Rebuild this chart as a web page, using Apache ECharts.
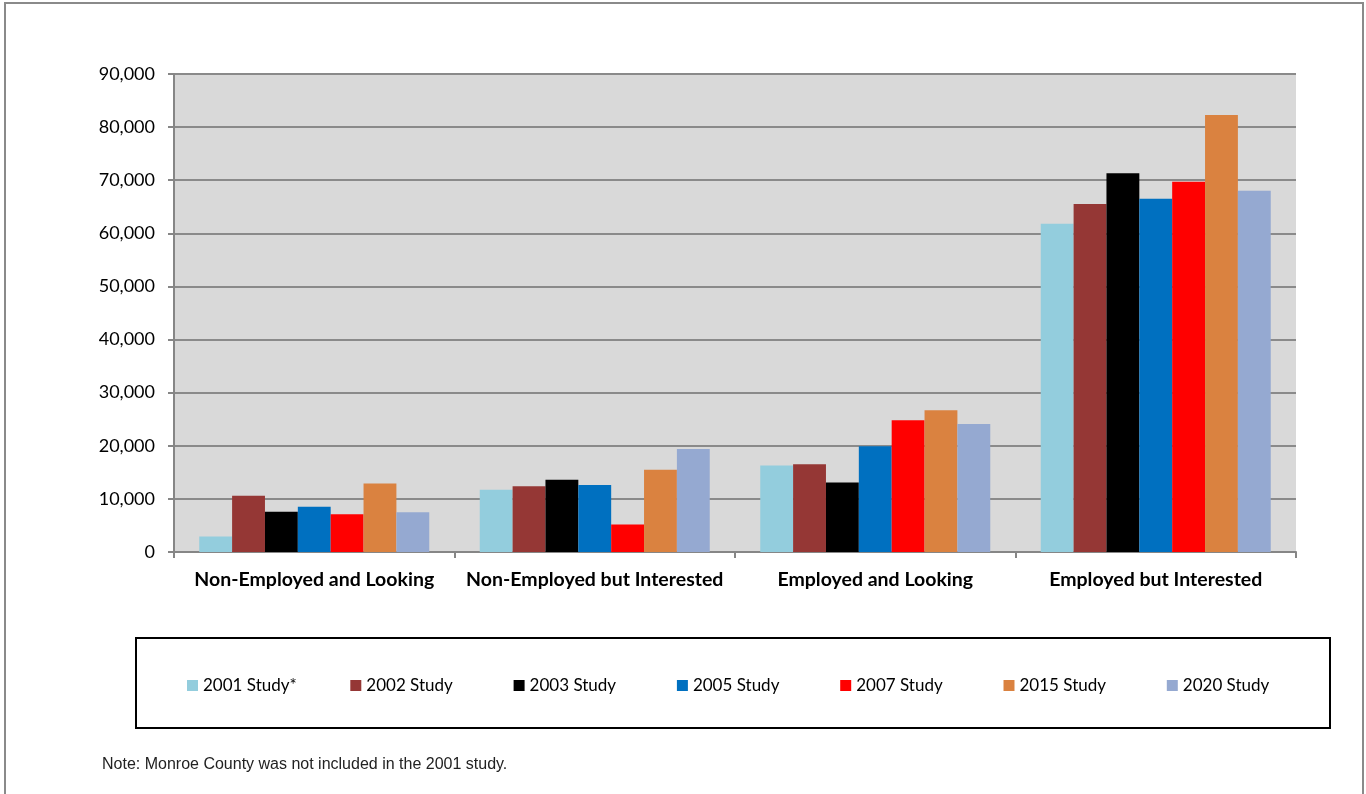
<!DOCTYPE html>
<html>
<head>
<meta charset="utf-8">
<script src="https://cdn.jsdelivr.net/npm/echarts@6/dist/echarts.min.js"></script>
<style>
  html, body { margin: 0; padding: 0; background: #fff; }
  #chart { width: 1366px; height: 794px; }
</style>
</head>
<body>
<div id="chart"></div>
<script>
// Job-seeker counts by category, one series per study year
const categories = ['Non-Employed and Looking', 'Non-Employed but Interested', 'Employed and Looking', 'Employed but Interested'];
const seriesNames = ['2001 Study*', '2002 Study', '2003 Study', '2005 Study', '2007 Study', '2015 Study', '2020 Study'];
const study2001 = [2900, 11700, 16300, 61800];
const study2002 = [10600, 12400, 16500, 65500];
const study2003 = [7600, 13600, 13100, 71300];
const study2005 = [8500, 12600, 19900, 66500];
const study2007 = [7100, 5200, 24800, 69700];
const study2015 = [12900, 15500, 26700, 82300];
const study2020 = [7500, 19400, 24100, 68000];
const seriesColors = ['#93CDDD', '#953735', '#000000', '#0070C0', '#FF0000', '#DA8240', '#95A9D1'];
const noteText = 'Note: Monroe County was not included in the 2001 study.';

const seriesValues = [study2001, study2002, study2003, study2005, study2007, study2015, study2020];

const chart = echarts.init(document.getElementById('chart'));
const fontMain = 'Lato, "Open Sans", sans-serif';

// one legend entry per component so the entries sit on an even pitch
const legendStart = 182;
const legendPitch = 163.3;
const legends = seriesNames.map((name, i) => ({
  data: [name],
  left: legendStart + i * legendPitch,
  top: 672,
  itemWidth: 11, itemHeight: 11,
  itemGap: 6,
  icon: 'rect',
  textStyle: { fontFamily: fontMain, fontSize: 17, color: '#000' }
}));

chart.setOption({
  animation: false,
  backgroundColor: '#ffffff',
  grid: {
    left: 174, right: 70, top: 74, bottom: 242,
    show: true, backgroundColor: '#D9D9D9', borderWidth: 0
  },
  legend: legends,
  xAxis: {
    type: 'category',
    data: categories,
    axisLine: { lineStyle: { color: '#868686', width: 2 } },
    axisTick: { show: true, length: 6, alignWithLabel: false, lineStyle: { color: '#868686', width: 2 } },
    axisLabel: { interval: 0, fontFamily: fontMain, fontSize: 19.5, fontWeight: 'bold', color: '#000', margin: 18 }
  },
  yAxis: {
    type: 'value',
    min: 0, max: 90000, interval: 10000,
    axisLine: { show: true, lineStyle: { color: '#868686', width: 2 } },
    axisTick: { show: true, length: 6, lineStyle: { color: '#868686', width: 2 } },
    axisLabel: {
      fontFamily: fontMain, fontSize: 18, color: '#000', margin: 19,
      formatter: v => v.toLocaleString('en-US')
    },
    splitLine: { lineStyle: { color: '#8A8A8A', width: 2 } }
  },
  series: seriesNames.map((name, i) => ({
    name: name,
    type: 'bar',
    data: seriesValues[i],
    barGap: '0%',
    barCategoryGap: '18%',
    itemStyle: { color: seriesColors[i] }
  })),
  graphic: [
    {
      type: 'rect', silent: true, z: -1,
      shape: { x: 5, y: 3, width: 1358, height: 820 },
      style: { fill: 'none', stroke: '#8A8A8A', lineWidth: 2 }
    },
    {
      type: 'rect', silent: true,
      shape: { x: 136, y: 638, width: 1194, height: 90 },
      style: { fill: 'none', stroke: '#000', lineWidth: 2 }
    },
    {
      type: 'text', silent: true,
      left: 102, top: 757,
      style: { text: noteText, font: '16px "Liberation Sans", Arial, sans-serif', fill: '#222' }
    }
  ]
});
</script>
</body>
</html>
